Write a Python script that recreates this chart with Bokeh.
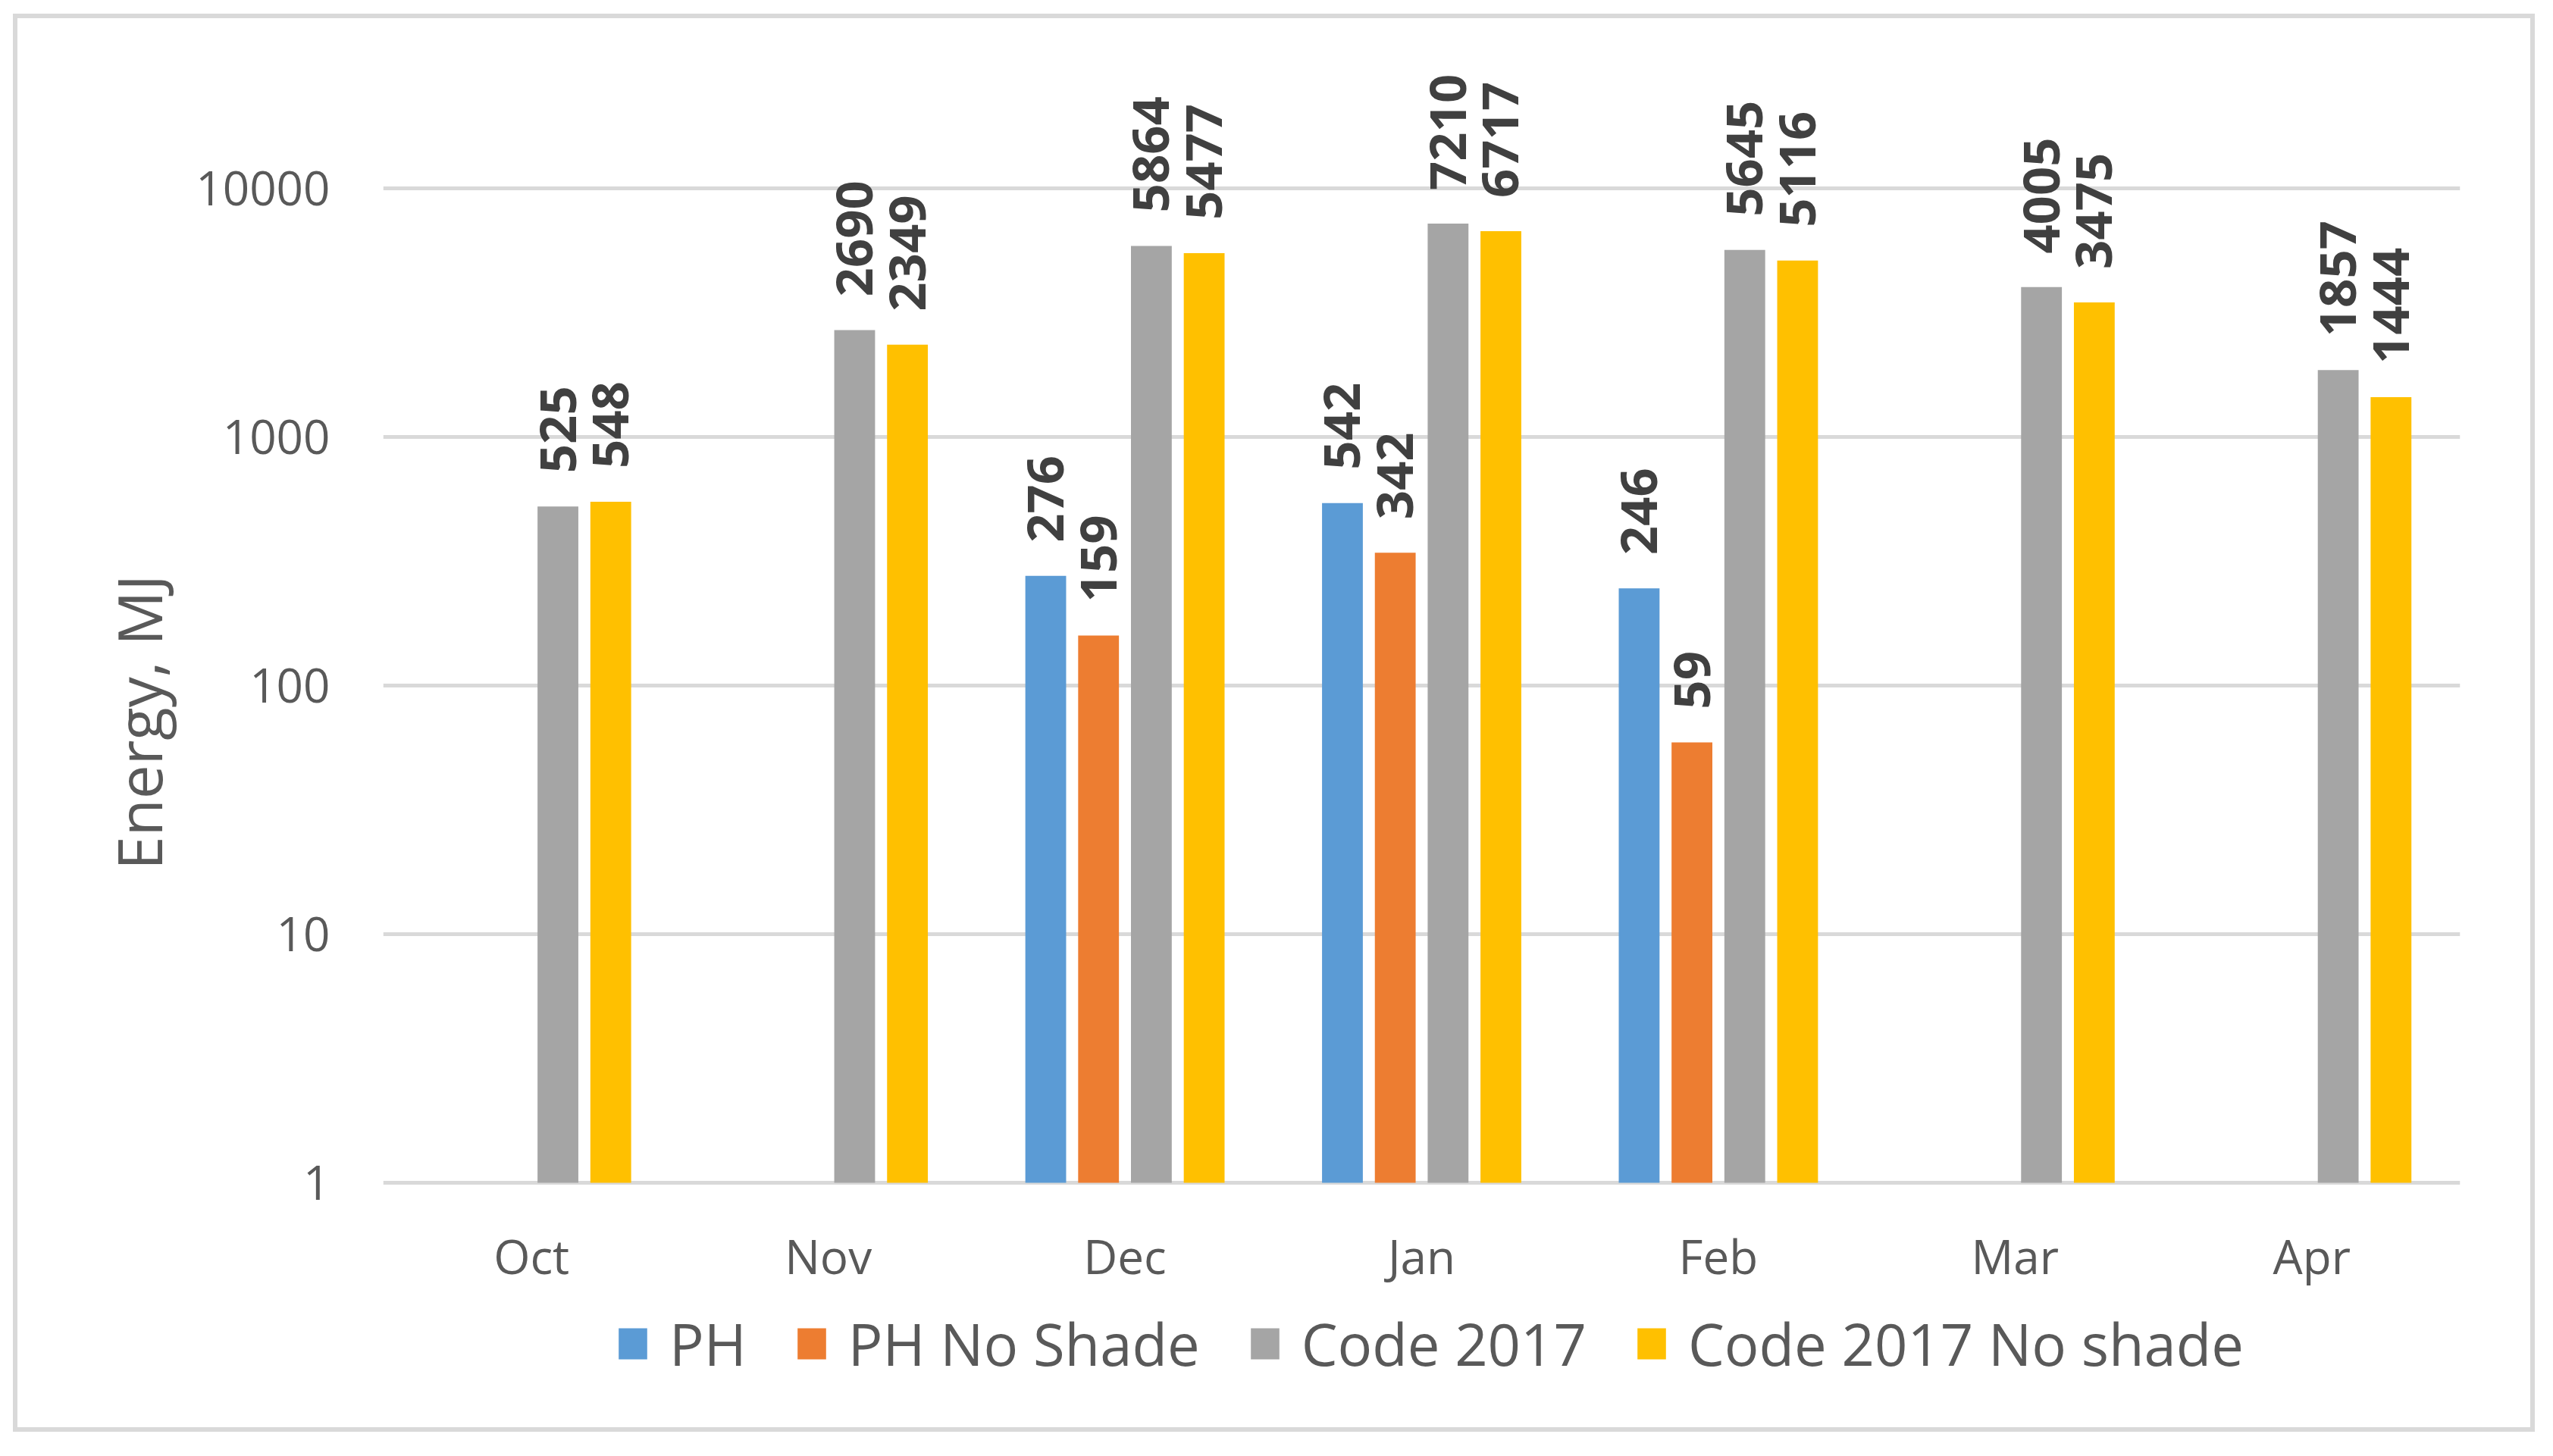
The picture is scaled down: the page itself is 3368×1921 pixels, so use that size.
from bokeh.plotting import figure
from bokeh.models import (ColumnDataSource, FactorRange, Range1d, FixedTicker,
                          PrintfTickFormatter, LabelSet, Legend, LegendItem)
from bokeh.layouts import column
from bokeh.transform import dodge
from bokeh.core.properties import value
from bokeh.embed import file_html
from bokeh.resources import INLINE

months = ["Oct", "Nov", "Dec", "Jan", "Feb", "Mar", "Apr"]
series_names = ["PH", "PH No Shade", "Code 2017", "Code 2017 No shade"]
ph = [None, None, 276, 542, 246, None, None]
ph_no_shade = [None, None, 159, 342, 59, None, None]
code_2017 = [525, 2690, 5864, 7210, 5645, 4005, 1857]
code_2017_no_shade = [548, 2349, 5477, 6717, 5116, 3475, 1444]
y_ticks = [1, 10, 100, 1000, 10000]

colors = ["#5B9BD5", "#ED7D31", "#A5A5A5", "#FFC000"]
offsets = [-0.267, -0.089, 0.089, 0.267]
all_series = [ph, ph_no_shade, code_2017, code_2017_no_shade]

FONT = "Open Sans"
TXT = "#595959"

# frame: y=1 at canvas 1536, 328 px per decade
p = figure(width=3315, height=1859, x_range=FactorRange(factors=months, range_padding=0),
           y_axis_type="log", y_range=Range1d(10 ** -0.896, 10 ** 4.6),
           output_backend="svg", toolbar_location=None,
           min_border_left=482, min_border_right=93, min_border_top=27, min_border_bottom=29)
p.outline_line_color = None
p.background_fill_color = "white"
p.border_fill_color = "white"

items = []
for name, vals, col, off in zip(series_names, all_series, colors, offsets):
    xs = [m for m, v in zip(months, vals) if v is not None]
    ys = [v for v in vals if v is not None]
    src = ColumnDataSource(dict(month=xs, val=ys, lab=[str(v) for v in ys]))
    r = p.vbar(x=dodge("month", off, range=p.x_range), top="val", bottom=1, width=0.1375,
               source=src, fill_color=col, line_color=None)
    items.append(LegendItem(label=name, renderers=[r]))
    labels = LabelSet(x=dodge("month", off, range=p.x_range), y="val", text="lab", source=src,
                      angle=1.5707963, text_align="left", text_baseline="middle",
                      y_offset=44, text_font=value(FONT), text_font_style="bold",
                      text_font_size="67px", text_color="#404040")
    p.add_layout(labels)

# category labels under the baseline (y = 1)
cat_src = ColumnDataSource(dict(month=months, base=[1] * len(months)))
cat_labels = LabelSet(x="month", y="base", text="month", source=cat_src,
                      text_align="center", text_baseline="middle", y_offset=-96,
                      text_font=value(FONT), text_font_size="62px", text_color=TXT)
p.add_layout(cat_labels)
p.xaxis.visible = False

# y axis
p.yaxis.ticker = FixedTicker(ticks=y_ticks, minor_ticks=[])
p.yaxis.formatter = PrintfTickFormatter(format="%d")
p.yaxis.axis_line_color = None
p.yaxis.major_tick_line_color = None
p.yaxis.minor_tick_line_color = None
p.yaxis.major_label_standoff = 64
p.yaxis.major_label_text_font = FONT
p.yaxis.major_label_text_font_size = "62px"
p.yaxis.major_label_text_color = TXT
p.yaxis.axis_label = "Energy, MJ"
p.yaxis.axis_label_text_font = FONT
p.yaxis.axis_label_text_font_style = "normal"
p.yaxis.axis_label_text_font_size = "80px"
p.yaxis.axis_label_text_color = TXT
p.yaxis.axis_label_standoff = 18

p.xgrid.grid_line_color = None
p.ygrid.ticker = FixedTicker(ticks=y_ticks, minor_ticks=[])
p.ygrid.grid_line_color = "#d9d9d9"
p.ygrid.grid_line_width = 5

legend = Legend(items=items, orientation="horizontal", location=(306, 30),
                glyph_width=47, glyph_height=51, label_standoff=25, spacing=62,
                padding=0, margin=0, border_line_color=None, background_fill_alpha=0,
                label_text_font=FONT, label_text_font_size="76px", label_text_color=TXT)
p.add_layout(legend, "center")

lay = column(p, margin=(18, 0, 0, 17),
             styles={"border": "6px solid #d9d9d9", "background-color": "white"})

open("out.html", "w").write(file_html(lay, INLINE))
